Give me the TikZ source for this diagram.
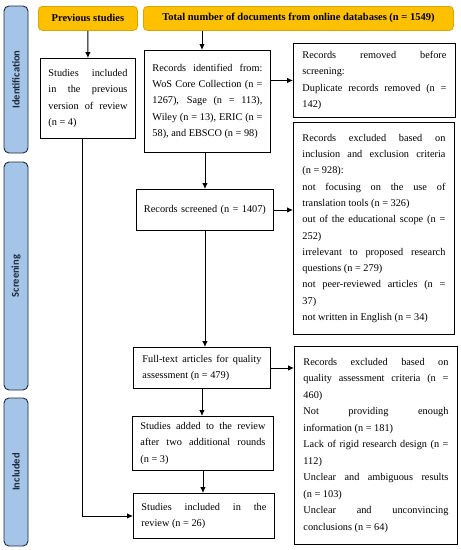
\documentclass[tikz,border=0pt]{standalone}
\usepackage{fontspec}
\setmainfont{Liberation Serif}
\newfontfamily\sidefont{Carlito}
\usetikzlibrary{arrows.meta}
\definecolor{gold}{HTML}{FFC000}
\definecolor{goldb}{HTML}{D9A300}
\definecolor{sideblue}{HTML}{A4C4E8}
\definecolor{sideb}{HTML}{1F2A3A}
\begin{document}
\begin{tikzpicture}[x=1pt,y=-1pt,
  box/.style={draw=black, line width=0.9pt, fill=white, anchor=north west,
    inner ysep=2pt, align=justify, font=\fontsize{10.3}{16.3}\selectfont},
  head/.style={draw=goldb, fill=gold, line width=0.8pt, rounded corners=4pt,
    anchor=north west, inner sep=0pt, font=\bfseries\fontsize{10.5}{12}\selectfont},
  side/.style={draw=sideb, fill=sideblue, line width=0.9pt, rounded corners=5pt,
    rotate=90, inner sep=0pt, minimum height=24pt, text=sideb,
    font=\sidefont\bfseries\fontsize{10.5}{12}\selectfont},
  arr/.style={-{Latex[length=6pt,width=5.5pt]}, line width=0.9pt}]
\useasboundingbox (0,0) rectangle (461,550);

% side bars
\node[side, minimum width=147pt] (sideid) at (16,79.5) {Identification};
\node[side, minimum width=228pt] (sidescr) at (16,276) {Screening};
\node[side, minimum width=148pt] (sideinc) at (16,472) {Included};

% headings
\node[head, minimum width=99pt, minimum height=24pt] (prev) at (38,6) {Previous studies};
\node[head, minimum width=310pt, minimum height=24pt] (total) at (143,6) {Total number of documents from online databases (n = 1549)};

% boxes
\node[box, inner xsep=8pt, text width=79pt, minimum height=80pt] (prevbox) at (40,58)
  {Studies included\linebreak in the previous\linebreak version of review\linebreak (n = 4)};
\node[box, inner xsep=8pt, text width=110pt, minimum height=102pt] (ident) at (144,50)
  {Records identified from:\linebreak WoS Core Collection (n =\linebreak 1267), Sage (n = 113),\linebreak Wiley (n = 13), ERIC (n =\linebreak 58), and EBSCO (n = 98)};
\node[box, inner xsep=9pt, text width=144pt, minimum height=74pt] (removed) at (293,43)
  {Records removed before\linebreak screening:\par Duplicate records removed (n =\linebreak 142)};
\node[box, inner xsep=9pt, text width=143pt, minimum height=212pt] (excluded) at (293,122)
  {Records excluded based on\linebreak inclusion and exclusion criteria\linebreak (n = 928):\par
   not focusing on the use of\linebreak translation tools (n = 326)\par
   out of the educational scope (n =\linebreak 252)\par
   irrelevant to proposed research\linebreak questions (n = 279)\par
   not peer-reviewed articles (n =\linebreak 37)\par
   not written in English (n = 34)};
\node[box, inner xsep=6pt, text width=125pt, minimum height=41pt, align=center] (screened) at (136,189)
  {Records screened (n = 1407)};
\node[box, inner xsep=9pt, text width=119pt, minimum height=41pt] (fulltext) at (133,347)
  {Full-text articles for quality\linebreak assessment (n = 479)};
\node[box, inner xsep=9pt, text width=145pt, minimum height=198pt, font=\fontsize{10.3}{16.5}\selectfont] (quality) at (294,346)
  {Records excluded based on\linebreak quality assessment criteria (n =\linebreak 460)\par
   Not providing enough\linebreak information (n = 181)\par
   Lack of rigid research design (n =\linebreak 112)\par
   Unclear and ambiguous results\linebreak (n = 103)\par
   Unclear and unconvincing\linebreak conclusions (n = 64)};
\node[box, inner xsep=8pt, text width=125pt, minimum height=54pt] (added) at (132,416)
  {Studies added to the review\linebreak after two additional rounds\linebreak (n = 3)};
\node[box, inner xsep=8pt, text width=125pt, minimum height=45pt] (included) at (133,493)
  {Studies included in the\linebreak review (n = 26)};

% connectors
\coordinate (t1) at (202,0);
\coordinate (l1) at (82,0);
\draw[arr] (prev) -- (prevbox);
\draw[arr] (total.south -| t1) -- (ident.north -| t1);
\draw[arr] (ident.east |- removed.west) -- (removed.west);
\draw[arr] (ident.south -| screened.north) -- (screened.north);
\draw[arr] (screened.east) -- (screened.east -| excluded.west);
\draw[arr] (screened.south) -- (screened.south |- fulltext.north);
\draw[arr] (fulltext.east) -- (fulltext.east -| quality.west);
\draw[arr] (fulltext.south) -- (fulltext.south |- added.north);
\draw[arr] (added.south) -- (added.south |- included.north);
\draw[arr] (prevbox.south -| l1) |- (included.west);
\end{tikzpicture}
\end{document}
